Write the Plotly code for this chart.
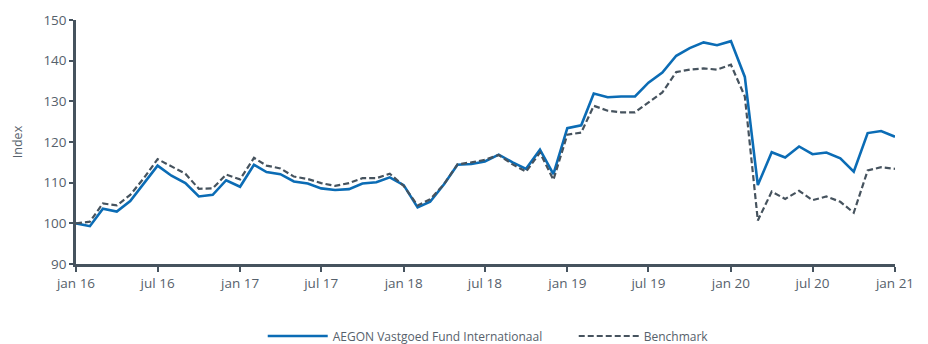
import pandas as pd
import plotly.graph_objects as go

# Monthly index levels, jan 2016 = 100
months = pd.date_range("2016-01-01", "2021-01-01", freq="MS")

fund = [
    100.0, 99.3, 103.6, 102.9, 105.5, 109.8, 114.2, 111.7, 109.9, 106.6, 107.0, 110.6,
    109.0, 114.4, 112.6, 112.1, 110.3, 109.8, 108.6, 108.2, 108.4, 109.8, 110.1, 111.3,
    109.4, 103.9, 105.3, 109.6, 114.4, 114.6, 115.2, 116.9, 115.0, 113.4, 118.1, 112.1,
    123.4, 124.1, 131.9, 131.0, 131.2, 131.2, 134.6, 137.1, 141.2, 143.1, 144.5, 143.8,
    144.8, 136.0, 109.4, 117.5, 116.2, 118.9, 117.0, 117.4, 116.0, 112.7, 122.2, 122.7,
    121.3,
]

benchmark = [
    100.0, 100.4, 104.9, 104.4, 107.0, 111.2, 115.8, 114.0, 112.2, 108.5, 108.6, 112.0,
    110.8, 116.1, 114.2, 113.5, 111.5, 110.9, 109.9, 109.2, 109.9, 111.1, 111.1, 112.2,
    109.2, 104.4, 105.9, 109.6, 114.5, 115.0, 115.6, 116.8, 114.5, 112.7, 117.4, 110.7,
    121.8, 122.3, 128.9, 127.7, 127.3, 127.3, 129.7, 132.2, 137.2, 137.8, 138.1, 137.8,
    139.0, 131.2, 100.7, 107.8, 106.0, 108.0, 105.7, 106.6, 105.3, 102.6, 113.0, 113.8,
    113.4,
]

tick_dates = pd.date_range("2016-01-01", "2021-01-01", freq="6MS")
tick_labels = ["jan 16", "jul 16", "jan 17", "jul 17", "jan 18", "jul 18",
               "jan 19", "jul 19", "jan 20", "jul 20", "jan 21"]

series_names = ["AEGON Vastgoed Fund Internationaal", "Benchmark"]

axis_color = "#46535e"
text_color = "#56616b"
font_family = "'Open Sans', sans-serif"

fig = go.Figure()
fig.add_trace(go.Scatter(
    x=months, y=fund, mode="lines", name=series_names[0],
    line=dict(color="#0b6cb5", width=2.6),
))
fig.add_trace(go.Scatter(
    x=months, y=benchmark, mode="lines", name=series_names[1],
    line=dict(color=axis_color, width=2.2, dash="6px,3px"),
))

fig.update_layout(
    width=928, height=344,
    margin=dict(l=76, r=33, t=20, b=80, autoexpand=False),
    paper_bgcolor="white", plot_bgcolor="white",
    font=dict(family=font_family, size=13, color=text_color),
    showlegend=True,
    legend=dict(
        orientation="h", x=0.228, xanchor="left", y=-0.295, yanchor="middle",
        itemwidth=60, entrywidth=236, entrywidthmode="pixels",
        font=dict(size=12, color=text_color),
    ),
)

fig.update_xaxes(
    range=[months[0], months[-1]],
    tickmode="array", tickvals=tick_dates, ticktext=tick_labels,
    showline=True, linecolor=axis_color, linewidth=2.5,
    ticks="outside", tickcolor=axis_color, ticklen=5, tickwidth=2,
    showgrid=False, zeroline=False,
    tickfont=dict(size=13.5, color=text_color),
)
fig.update_yaxes(
    range=[90, 150], dtick=10,
    showline=True, linecolor=axis_color, linewidth=2.5,
    ticks="outside", tickcolor=axis_color, ticklen=4, tickwidth=2,
    showgrid=False, zeroline=False,
    title=dict(text="Index", font=dict(size=12.5, color=text_color), standoff=19),
    tickfont=dict(size=13.5, color=text_color),
)

fig.write_html("out.html")
